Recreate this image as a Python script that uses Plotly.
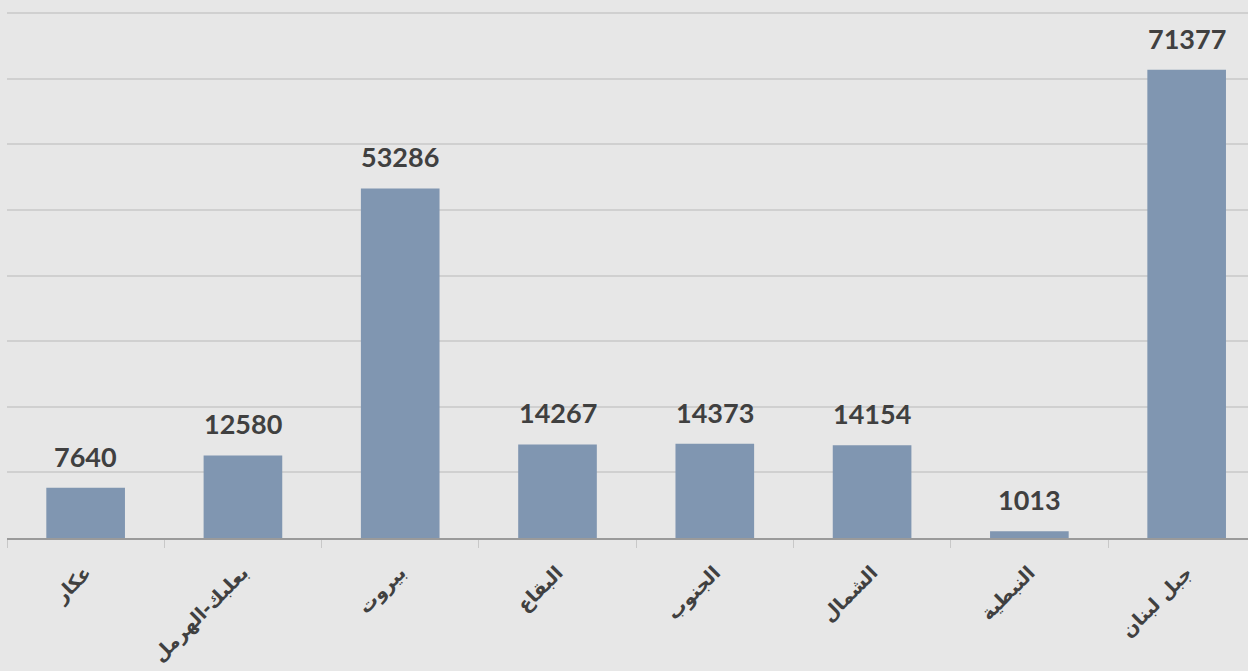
import plotly.graph_objects as go

categories = ["عكار", "بعلبك-الهرمل", "بيروت", "البقاع", "الجنوب", "الشمال", "النبطية", "جبل لبنان"]
values = [7640, 12580, 53286, 14267, 14373, 14154, 1013, 71377]

BAR_COLOR = "#8096b1"
TEXT_COLOR = "#404040"
BG = "#e7e7e7"

fig = go.Figure()
fig.add_trace(go.Bar(
    x=categories, y=values, width=0.5,
    marker=dict(color=BAR_COLOR, line=dict(width=0)),
    hoverinfo="skip",
))

for c, v in zip(categories, values):
    fig.add_annotation(
        x=c, y=v, text=f"<b>{v}</b>", showarrow=False,
        yanchor="bottom", yshift=13,
        font=dict(family="Lato, Open Sans, sans-serif", size=27, color=TEXT_COLOR),
    )

fig.update_layout(
    width=1248, height=671,
    margin=dict(l=7, r=0, t=0, b=133),
    paper_bgcolor=BG, plot_bgcolor=BG,
    showlegend=False,
    xaxis=dict(
        type="category",
        range=[-0.5, 7.39],
        tickangle=-45,
        tickson="boundaries",
        ticks="outside", ticklen=8, tickcolor="#c8c8c8", tickwidth=1,
        showgrid=False,
        showline=True, linecolor="#9a9a9a", linewidth=2,
        tickfont=dict(family="DejaVu Sans, Noto Sans, sans-serif", size=19, color=TEXT_COLOR, weight="bold"),
        ticklabelstandoff=14,
        automargin=False,
    ),
    yaxis=dict(
        range=[0, 82000],
        dtick=10000,
        showticklabels=False,
        showgrid=True, gridcolor="#d0d0d0", gridwidth=1.5,
        zeroline=False,
        fixedrange=True,
        automargin=False,
    ),
)

fig.write_html(
    "out.html",
    config={"displayModeBar": False},
    post_script="document.body.style.margin='0';document.body.style.background='#e7e7e7';",
)
